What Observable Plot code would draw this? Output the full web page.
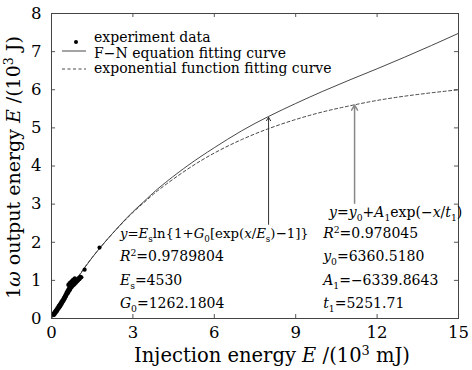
<!DOCTYPE html>
<html><head><meta charset="utf-8">
<script src="https://cdn.jsdelivr.net/npm/d3@7"></script>
<script src="https://cdn.jsdelivr.net/npm/@observablehq/plot@0.6"></script>
<style>body{margin:0;background:#fff} svg text{font-family:'DejaVu Serif','Liberation Serif',serif !important;}</style>
</head><body><div id="chart"></div>
<script>
// ---- data ----
const xTicks = [0, 3, 6, 9, 12, 15];
const yTicks = [0, 1, 2, 3, 4, 5, 6, 7, 8];
const fitX  = [0, 0.5, 1, 1.5, 2, 2.5, 3, 3.5, 4, 5, 6, 7, 8, 9, 10, 11, 12, 13, 14, 15];
const fnY   = [0, 0.56, 1.1, 1.6, 2.03, 2.43, 2.8, 3.13, 3.45, 4.0, 4.48, 4.92, 5.3, 5.64, 5.96, 6.26, 6.55, 6.85, 7.16, 7.48];
const expFitY = [0.02, 0.58, 1.12, 1.6, 2.03, 2.42, 2.78, 3.1, 3.4, 3.91, 4.34, 4.69, 4.98, 5.22, 5.42, 5.58, 5.72, 5.83, 5.92, 6.0];
const expX = [0.07,0.09,0.1,0.12,0.13,0.15,0.16,0.18,0.19,0.2,0.22,0.23,0.25,0.26,0.27,0.29,0.3,0.32,0.33,0.35,0.36,0.38,0.4,0.41,0.43,0.44,0.46,0.47,0.49,0.5,0.52,0.53,0.55,0.56,0.58,0.6,0.62,0.63,0.65,0.67,0.68,0.7,0.72,0.74,0.76,0.78,0.8,0.82,0.84,0.86,0.88,0.9,0.92,0.94,0.96,0.98,1.0,1.03,1.06,1.1,0.62,0.66,0.7,0.75,0.8,0.86,1.22,1.77];
const expY = [0.12,0.09,0.15,0.12,0.18,0.15,0.21,0.18,0.24,0.2,0.27,0.23,0.3,0.26,0.33,0.29,0.36,0.32,0.39,0.36,0.43,0.39,0.47,0.43,0.5,0.46,0.54,0.5,0.58,0.54,0.62,0.58,0.67,0.62,0.71,0.66,0.76,0.7,0.8,0.74,0.85,0.78,0.88,0.82,0.9,0.86,0.93,0.88,0.95,0.91,0.98,0.94,1.0,0.97,1.03,1.0,1.06,1.03,1.09,1.08,0.88,0.92,0.95,0.98,1.02,1.05,1.28,1.86];
const seriesNames = ["experiment data", "F\u2212N equation fitting curve", "exponential function fitting curve"];
const arrowX  = [8.0, 11.17];
const arrowY1 = [2.47, 3.02];
const arrowY2 = [5.28, 5.6];

// equation text lines: [text, kind]
const fnLines = [
  [["y","i"],["=",""],["E","i"],["s","sub"],["ln{1+",""],["G","i"],["0","sub"],["[exp(",""],["x","i"],["/",""],["E","i"],["s","sub"],[")\u22121]}",""]],
  [["R","i"],["2","sup"],["=0.9789804",""]],
  [["E","i"],["s","sub"],["=4530",""]],
  [["G","i"],["0","sub"],["=1262.1804",""]]
];
const expLines = [
  [["y","i"],["=",""],["y","i"],["0","sub"],["+",""],["A","i"],["1","sub"],["exp(\u2212",""],["x","i"],["/",""],["t","i"],["1","sub"],[")",""]],
  [["R","i"],["2","sup"],["=0.978045",""]],
  [["y","i"],["0","sub"],["=6360.5180",""]],
  [["A","i"],["1","sub"],["=\u22126339.8643",""]],
  [["t","i"],["1","sub"],["=5251.71",""]]
];
const xTitle = [["Injection energy ",""],["E","i"],[" /(10",""],["3","sup"],[" mJ)",""]];
const yTitle = [["1",""],["\u03c9","i"],[" output energy ",""],["E","i"],[" /(10",""],["3","sup"],[" J)",""]];

(function () {
const fnData = fitX.map((x, i) => ({x, y: fnY[i]}));
const exData = fitX.map((x, i) => ({x, y: expFitY[i]}));
const pts = expX.map((x, i) => ({x, y: expY[i]}));
const arrows = arrowX.map((x, i) => ({x, y1: arrowY1[i], y2: arrowY2[i]}));

const tx = 0.15, ty = 0.105; // inward tick lengths in data units
const lineColor = "#333";
const FONT = "'DejaVu Serif', 'Liberation Serif', serif";

const plot = Plot.plot({
  width: 472, height: 370,
  marginLeft: 51, marginRight: 14, marginTop: 13, marginBottom: 52,
  style: {fontFamily: FONT, background: "white", color: "black"},
  x: {domain: [0, 15]},
  y: {domain: [0, 8]},
  marks: [
    Plot.axisX({ticks: xTicks, tickSize: 0, tickPadding: 8, fontSize: 16.5, label: null}),
    Plot.axisY({ticks: yTicks, tickSize: 0, tickPadding: 10, fontSize: 16.5, label: null}),
    Plot.ruleX(xTicks, {x: d => d, y1: 0, y2: ty, stroke: "#555"}),
    Plot.ruleX(xTicks, {x: d => d, y1: 8 - ty, y2: 8, stroke: "#555"}),
    Plot.ruleY(yTicks, {y: d => d, x1: 0, x2: tx, stroke: "#555"}),
    Plot.ruleY(yTicks, {y: d => d, x1: 15 - tx, x2: 15, stroke: "#555"}),
    Plot.line(fnData, {x: "x", y: "y", stroke: lineColor, strokeWidth: 0.9, curve: "natural"}),
    Plot.line(exData, {x: "x", y: "y", stroke: lineColor, strokeWidth: 0.9, strokeDasharray: "3,2.5", curve: "natural"}),
    Plot.dot(pts, {x: "x", y: "y", r: 2.1, fill: "black", stroke: "none"}),
    Plot.arrow(arrows.slice(0, 1), {x1: "x", x2: "x", y1: "y1", y2: "y2", stroke: "#333", strokeWidth: 1, headLength: 6}),
    Plot.arrow(arrows.slice(1), {x1: "x", x2: "x", y1: "y1", y2: "y2", stroke: "#888", strokeWidth: 1.5, headLength: 6}),
    Plot.frame({stroke: "#444", strokeWidth: 1})
  ]
});

const svg = d3.select(plot);
const sx = plot.scale("x"), sy = plot.scale("y");
const g = svg.append("g").attr("text-anchor", "start");

function rich(x, y, segs, size, opts = {}) {
  const t = g.append("text").attr("x", x).attr("y", y)
    .attr("font-size", size).attr("font-family", FONT).attr("fill", "black")
    .attr("text-anchor", opts.anchor || "start");
  if (opts.rotate) t.attr("transform", `rotate(-90 ${x} ${y})`);
  if (opts.spacing) t.attr("letter-spacing", opts.spacing);
  let shift = 0;
  for (const [s, k] of segs) {
    const ts = t.append("tspan").text(s);
    const target = k === "sub" ? size * 0.28 : k === "sup" ? -size * 0.38 : 0;
    if (target !== shift) { ts.attr("dy", target - shift); shift = target; }
    if (k === "i") ts.attr("font-style", "italic");
    if (k === "sub" || k === "sup") ts.attr("font-size", size * 0.66);
  }
  return t;
}

const pl = sx.apply(0), pt = sy.apply(8), pr = sx.apply(15), pb = sy.apply(0);

// axis titles
rich(272, pb + 44, xTitle, 19.5, {anchor: "middle"});
rich(20, (pt + pb) / 2 + 2, yTitle, 19, {anchor: "middle", rotate: true});

// legend
const lx = pl + 11, ltx = pl + 43;
g.append("circle").attr("cx", pl + 25).attr("cy", pt + 29).attr("r", 2).attr("fill", "black");
g.append("line").attr("x1", lx).attr("x2", lx + 24).attr("y1", pt + 38).attr("y2", pt + 38).attr("stroke", lineColor).attr("stroke-width", 0.9);
g.append("line").attr("x1", lx).attr("x2", lx + 24).attr("y1", pt + 56).attr("y2", pt + 56).attr("stroke", lineColor).attr("stroke-width", 0.9).attr("stroke-dasharray", "3,2.5");
seriesNames.forEach((s, i) => rich(ltx, pt + 29 + i * 15.5, [[s, ""]], 14));

// equations
const eqSize = 14;
fnLines.forEach((l, i) => rich(sx.apply(2.54), pb - 80 + i * 23.3, l, i === 0 ? 13.3 : eqSize));
rich(sx.apply(10.25), pb - 101, expLines[0], eqSize);
expLines.slice(1).forEach((l, i) => rich(sx.apply(10.03), pb - 80 + i * 23.3, l, eqSize));

document.getElementById("chart").appendChild(plot);
})();
</script>
</body></html>
